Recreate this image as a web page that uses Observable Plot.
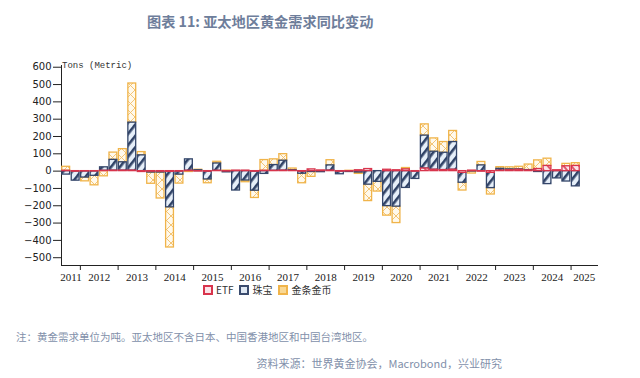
<!DOCTYPE html>
<html>
<head>
<meta charset="utf-8">
<script src="https://cdn.jsdelivr.net/npm/d3@7"></script>
<script src="https://cdn.jsdelivr.net/npm/@observablehq/plot@0.6"></script>
<style>
  body { margin: 0; background: #fff; }
  #wrap { position: relative; width: 640px; height: 378px; overflow: hidden; font-family: "Noto Sans CJK SC", "Noto Sans", sans-serif; }
  .abs { position: absolute; white-space: nowrap; line-height: 1; }
  #title { left: 147px; top: 14px; font-size: 14.2px; font-weight: 700; color: #6e7e9b; }
  #unit { left: 62px; top: 62px; font-family: "Liberation Mono", "DejaVu Sans Mono", monospace; font-size: 9px; color: #333; }
  #legend { left: 203px; top: 285px; font-size: 10px; color: #333; display: flex; align-items: center; }
  #legend .sw { display: inline-block; width: 6px; height: 6px; border: 2px solid; margin-right: 3px; }
  #legend .it { display: flex; align-items: center; margin-right: 6px; }
  #note { left: 16px; top: 332px; font-size: 10.5px; color: #8290aa; }
  #source { right: 138px; top: 358px; font-size: 11px; color: #8290aa; }
  #chart { position: absolute; left: 0; top: 0; }
</style>
</head>
<body>
<svg width="0" height="0" style="position:absolute">
  <defs>
    <pattern id="pJ" patternUnits="userSpaceOnUse" width="7" height="7" patternTransform="rotate(38)">
      <rect width="7" height="7" fill="#e6eff9"></rect>
      <rect width="2.6" height="7" fill="#2f4266"></rect>
    </pattern>
    <pattern id="pB" patternUnits="userSpaceOnUse" width="9" height="9">
      <rect width="9" height="9" fill="#fff9ec"></rect>
      <path d="M0,0L9,9M9,0L0,9" stroke="#f2c06a" stroke-width="0.9"></path>
    </pattern>
    <pattern id="pE" patternUnits="userSpaceOnUse" width="6" height="6" patternTransform="rotate(-40)">
      <rect width="6" height="6" fill="#fbe4e9"></rect>
      <rect width="2" height="6" fill="#e0586c"></rect>
    </pattern>
  </defs>
</svg>
<div id="wrap">
  <div id="chart"></div>
  <div class="abs" id="title">图表 11: 亚太地区黄金需求同比变动</div>
  <div class="abs" id="unit">Tons (Metric)</div>
  <div class="abs" id="legend">
    <span class="it"><span class="sw" style="border-color:#d8344c;background:#fbe3e8"></span>ETF</span>
    <span class="it"><span class="sw" style="border-color:#3a4b6e;background:#dfe8f3"></span>珠宝</span>
    <span class="it"><span class="sw" style="border-color:#f0b44a;background:#f9d894"></span>金条金币</span>
  </div>
  <div class="abs" id="note">注：黄金需求单位为吨。亚太地区不含日本、中国香港地区和中国台湾地区。</div>
  <div class="abs" id="source">资料来源：世界黄金协会，Macrobond，兴业研究</div>
</div>
<script>
// Quarters from 2011Q3 to 2025Q1
const quarters = [
  "2011Q3","2011Q4",
  "2012Q1","2012Q2","2012Q3","2012Q4",
  "2013Q1","2013Q2","2013Q3","2013Q4",
  "2014Q1","2014Q2","2014Q3","2014Q4",
  "2015Q1","2015Q2","2015Q3","2015Q4",
  "2016Q1","2016Q2","2016Q3","2016Q4",
  "2017Q1","2017Q2","2017Q3","2017Q4",
  "2018Q1","2018Q2","2018Q3","2018Q4",
  "2019Q1","2019Q2","2019Q3","2019Q4",
  "2020Q1","2020Q2","2020Q3","2020Q4",
  "2021Q1","2021Q2","2021Q3","2021Q4",
  "2022Q1","2022Q2","2022Q3","2022Q4",
  "2023Q1","2023Q2","2023Q3","2023Q4",
  "2024Q1","2024Q2","2024Q3","2024Q4",
  "2025Q1"
];
const seriesNames = ["ETF", "珠宝", "金条金币"];
const etf = [
  2, -3,
  -2, -2, 2, 3,
  3, 3, -5, -3,
  -3, -4, -3, 2,
  -2, -3, 2, -2,
  3, 3, -3, 2,
  2, 3, 2, -3,
  10, 4, 3, -3,
  -2, 5, 12, 0,
  8, 5, 10, -3,
  15, 8, 6, 8,
  -10, 3, -3, -10,
  3, 5, 8, 4,
  12, 30, 5, 28,
  30
];
const jewelry = [
  -20, -52,
  -35, -25, 20, 62,
  48, 277, 91, -5,
  -5, -205, -17, 66,
  5, -45, 42, -5,
  -112, -54, -110, -16,
  33, 57, 3, -12,
  -5, -6, 30, -15,
  -3, -8, -78, -62,
  -202, -205, -97, -42,
  190, 104, 100, 160,
  -57, -2, 33, -88,
  10, 5, 2, 2,
  -5, -75, -42, -60,
  -88
];
const barsCoins = [
  23, 0,
  -22, -55, -30, 42,
  76, 226, 19, -65,
  -150, -232, -52, -5,
  3, -22, 10, 3,
  0, -10, -42, 62,
  33, 38, 10, -55,
  -28, 0, 30, 0,
  2, -8, -95, -56,
  -55, -95, 8, 0,
  65, 77, 62, 64,
  -45, -12, 20, -37,
  10, 12, 15, 32,
  50, 42, 0, 14,
  16
];
const yearLabels = ["2011","2012","2013","2014","2015","2016","2017","2018","2019","2020","2021","2022","2023","2024","2025"];
const yTicks = [-500,-400,-300,-200,-100,0,100,200,300,400,500,600];

// Build stacked table (positives up, negatives down)
const seriesValues = [etf, jewelry, barsCoins];
const rows = [];
quarters.forEach((q, i) => {
  const t = +q.slice(0, 4) + (+q.slice(5) - 1) / 4;
  let pos = 0, neg = 0;
  seriesValues.forEach((vals, s) => {
    const v = vals[i];
    let y1, y2;
    if (v >= 0) { y1 = pos; y2 = pos + v; pos = y2; }
    else { y1 = neg; y2 = neg + v; neg = y2; }
    rows.push({t, t2: t + 0.25, series: seriesNames[s], y1, y2});
  });
});

const xDomain = [2011.5, 2025.7];
const yDomain = [-545, 610];
const labelRows = yearLabels.map(y => {
  const a = Math.max(+y, xDomain[0]), b = Math.min(+y + 1, xDomain[1]);
  return {label: y, x: (a + b) / 2};
});

const styles = {
  "ETF": {fill: "url(#pE)", stroke: "#d8344c"},
  "珠宝": {fill: "url(#pJ)", stroke: "#34466a"},
  "金条金币": {fill: "url(#pB)", stroke: "#f0b44a"}
};
const order = ["金条金币", "珠宝", "ETF"];

const chart = Plot.plot({
  width: 640,
  height: 285,
  marginTop: 65,
  marginBottom: 20,
  marginLeft: 61,
  marginRight: 43,
  style: {fontFamily: "DejaVu Sans, sans-serif", fontSize: "10px", color: "#222", background: "transparent", overflow: "visible"},
  x: {domain: xDomain, ticks: d3.range(2012, 2026), tickFormat: () => "", tickSize: 5, line: true, label: null},
  y: {domain: yDomain, ticks: yTicks, tickSize: 8, tickPadding: 2, line: true, label: null},
  marks: [
    ...order.map(name => Plot.rect(rows.filter(r => r.series === name), {
      x1: "t", x2: "t2", y1: "y1", y2: "y2",
      fill: styles[name].fill, stroke: styles[name].stroke, strokeWidth: 1.3,
      insetLeft: 0.8, insetRight: 0.8
    })),
    Plot.text(labelRows, {x: "x", y: () => yDomain[0], dy: 12, text: "label", fontFamily: "Liberation Serif, serif", fontSize: 11, fill: "#222"})
  ]
});
document.getElementById("chart").appendChild(chart);
</script>
</body>
</html>
